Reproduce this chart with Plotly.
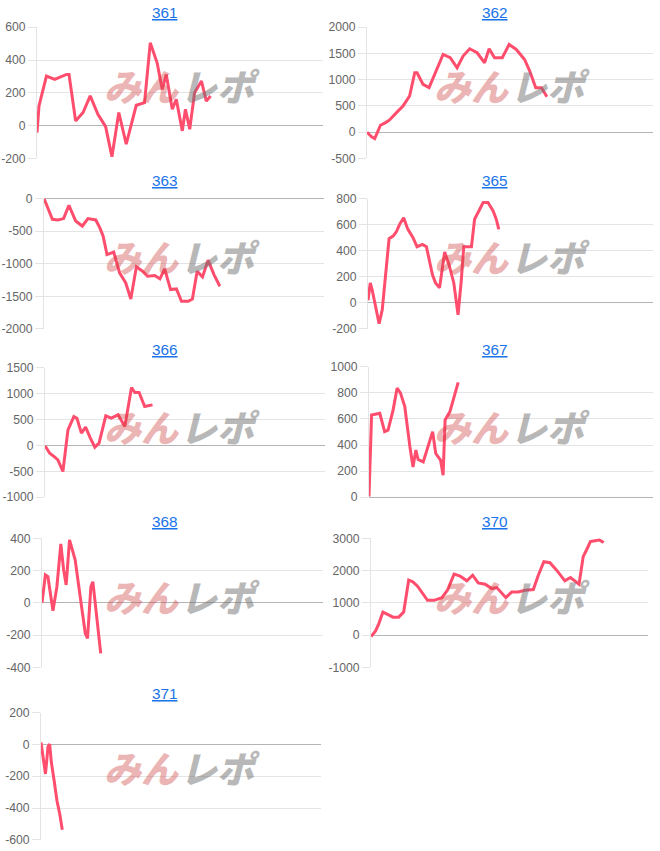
import plotly.graph_objects as go

# ---------------- data ----------------
titles = ["361", "362", "363", "365", "366", "367", "368", "370", "371"]

x361 = [0, 0.7, 3.3, 6.2, 10.3, 11.2, 13.5, 16.1, 18.6, 21.3, 24, 26.2, 28.6, 31.2, 34.7, 37.6, 39.6, 42, 43.8, 45.2,
        47.3, 48.7, 50.8, 51.9, 53.4, 55.1, 57.5, 59.2, 60.7]
y361 = [-42, 120, 302, 282, 312, 312, 29, 80, 181, 69, -6, -190, 80, -113, 124, 140, 505, 383, 221, 312,
        100, 161, -32, 100, -22, 201, 272, 150, 181]

x362 = [0, 1.5, 2.7, 4.7, 6.5, 7.9, 10.3, 12.6, 14.9, 16.7, 17.5, 19.6, 21.7, 24.2, 26.6, 29.1, 31.5, 33.6, 35.9, 38.5,
        41.1, 42.7, 44.6, 47.3, 49.7, 52.2, 55.1, 56.9, 59, 61, 62.9]
y362 = [0, -82, -120, 133, 183, 234, 373, 500, 690, 1133, 1133, 911, 848, 1165, 1481, 1418, 1228, 1449, 1589, 1513,
        1323, 1589, 1418, 1418, 1671, 1576, 1386, 1165, 848, 848, 677]

x363 = [0, 1.4, 3, 5, 7, 8.9, 11.3, 13.7, 15.7, 18.5, 19.9, 21.1, 22.5, 23.7, 24.9, 27, 29.2, 31, 33, 35.2,
        37, 39.6, 41.4, 43.1, 45.2, 47.3, 49.1, 51.5, 53, 54.7, 56.6, 58.6, 60.7, 62.8]
y363 = [0, -139, -319, -329, -308, -103, -344, -422, -308, -329, -447, -576, -859, -843, -822, -1141, -1296, -1542,
        -1049, -1116, -1193, -1182, -1234, -1080, -1398, -1388, -1578, -1578, -1542, -1116, -1203, -946, -1167, -1347]

x365 = [0, 0.8, 1.5, 2.7, 3.9, 5, 6.2, 7.4, 8.8, 9.9, 11.1, 12.5, 14, 15.8, 17.2, 19.1, 20.5, 22.6, 23.7, 25.1,
        26.9, 28.4, 30.1, 31.6, 32.7, 33.6, 36.3, 37.4, 39.2, 40.4, 42.1, 43.9, 45, 45.9]
y365 = [19, 152, 96, -48, -161, -53, 229, 492, 512, 543, 602, 653, 563, 499, 430, 448, 430, 216, 152, 114,
        389, 294, 152, -92, 165, 430, 430, 641, 718, 769, 769, 705, 641, 563]

x366 = [0, 1.7, 3.5, 4.6, 6.4, 8.2, 10.3, 11.4, 13, 14.5, 16.2, 17.8, 19.3, 21.7, 23.7, 26.1, 28.5, 29.3, 30.9, 32.1,
        33.6, 35.6, 37.4, 38.4]
y366 = [-8, -150, -227, -278, -504, 302, 559, 527, 237, 353, 140, -34, 44, 572, 527, 592, 366, 637, 1120, 1023,
        1023, 753, 765, 785]

x367 = [0, 0.5, 0.9, 2.6, 3.8, 5.5, 6.7, 8.5, 9.9, 11.1, 12.6, 14.4, 15.5, 16.5, 17.3, 19.1, 20.8, 22.4, 23.5, 25.2,
        26.1, 26.8, 28.5, 29.9, 31.4]
y367 = [5, 490, 631, 639, 644, 503, 515, 670, 838, 799, 696, 387, 232, 361, 289, 271, 387, 503, 335, 284,
        168, 593, 657, 773, 881]

x368 = [0, 1.2, 2.1, 3.9, 5.3, 6.7, 7.7, 8.6, 9.8, 11.8, 13.6, 15.4, 16.2, 17.4, 18.1, 19.5, 20.9]
y368 = [1, 173, 162, -49, 100, 365, 204, 111, 390, 266, 38, -189, -220, 100, 131, -86, -313]

x370 = [0, 1.6, 2.8, 4.3, 6, 7.9, 10, 11.8, 13.6, 15.1, 16.8, 18.7, 20.4, 22.8, 25.6, 27.6, 30, 32.2, 34.6, 36.7,
        38.7, 41.2, 43.6, 45.4, 48.7, 50.8, 53.2, 55.6, 57.4, 58.6, 60.4, 62.4, 64.6, 67, 70, 72, 75.1, 76.6, 77.8, 79.2,
        81.4, 82.4, 84]
y370 = [-44, 122, 351, 714, 642, 558, 558, 714, 1701, 1649, 1514, 1286, 1078, 1078, 1161, 1390, 1888, 1826, 1681, 1857,
        1618, 1577, 1442, 1473, 1161, 1338, 1338, 1390, 1410, 1410, 1857, 2273, 2242, 2013, 1681, 1784, 1577, 2429, 2636,
        2896, 2927, 2948, 2865]

x371 = [0, 0.7, 1.6, 2.1, 2.5, 3.1, 3.7, 4.7, 5.7, 6.7, 7.6]
y371 = [12, -92, -186, -92, -15, 2, -113, -228, -354, -437, -537]

ticks361 = [-200, 0, 200, 400, 600]
ticks362 = [-500, 0, 500, 1000, 1500, 2000]
ticks363 = [-2000, -1500, -1000, -500, 0]
ticks365 = [-200, 0, 200, 400, 600, 800]
ticks366 = [-1000, -500, 0, 500, 1000, 1500]
ticks367 = [0, 200, 400, 600, 800, 1000]
ticks368 = [-400, -200, 0, 200, 400]
ticks370 = [-1000, 0, 1000, 2000, 3000]
ticks371 = [-600, -400, -200, 0, 200]

xs = [x361, x362, x363, x365, x366, x367, x368, x370, x371]
ys = [y361, y362, y363, y365, y366, y367, y368, y370, y371]
tks = [ticks361, ticks362, ticks363, ticks365, ticks366, ticks367, ticks368, ticks370, ticks371]

# ---------------- layout ----------------
W, H = 660, 851
OFF = 8                      # vertical page margin around the figure
SY = (H + 2 * OFF) / H       # vertical page -> picture scaling compensation


def px(x):
    return min(1.0, max(0.0, x / W))


def py(y):
    return min(1.0, max(0.0, 1 - (y * SY - OFF) / H))


# (left, right, top, bottom) of each plot area, in picture px
boxes = [
    (37, 323, 28, 159), (367, 653, 28, 159),
    (44, 324, 199, 329), (368, 653, 199, 329),
    (45, 325, 368, 497), (369, 653, 367, 497),
    (42, 323, 538, 667), (371, 648, 538, 667),
    (41, 321, 712, 839),
]
title_y = [13, 13, 181, 181, 350, 350, 521, 521, 693]
cell_top = [0, 0, 170, 170, 340, 340, 510, 510, 680]

LINE = "#ff4d6d"
GRID = "#e4e4e4"
FONT = "Liberation Sans, Arial, sans-serif"

fig = go.Figure()
annotations = []
layout = dict(
    width=W, height=H,
    margin=dict(l=0, r=0, t=0, b=0),
    paper_bgcolor="white", plot_bgcolor="white",
    showlegend=False,
    font=dict(family=FONT, size=12, color="#666666"),
)

for i in range(9):
    n = "" if i == 0 else str(i + 1)
    fig.add_trace(go.Scatter(
        x=xs[i], y=ys[i], mode="lines",
        line=dict(color=LINE, width=3),
        xaxis="x" + n, yaxis="y" + n, hoverinfo="skip",
    ))
    l, r, t, b = boxes[i]
    tv = tks[i]
    left_col = (i % 2 == 0)
    layout["xaxis" + n] = dict(
        domain=[px(l), px(r)], range=[0, 100], anchor="y" + n,
        showgrid=False, zeroline=False, showticklabels=False, showline=False, ticks="",
        fixedrange=True,
    )
    layout["yaxis" + n] = dict(
        domain=[py(b), py(t)], range=[tv[0], tv[-1]], anchor="x" + n,
        tickvals=tv, ticktext=[str(v) for v in tv],
        showgrid=True, gridcolor=GRID, gridwidth=1,
        zeroline=True, zerolinecolor="#b4b4b4", zerolinewidth=1,
        showline=True, linecolor=GRID, linewidth=1,
        ticks="outside", ticklen=8, tickcolor=GRID, tickwidth=1,
        tickfont=dict(family=FONT, size=12.2, color="#666666"),
        fixedrange=True,
    )
    cx = 165 if left_col else 495
    annotations.append(dict(
        text="<u>" + titles[i] + "</u>", xref="paper", yref="paper",
        x=px(cx), y=py(title_y[i]), xanchor="center", yanchor="middle",
        showarrow=False, font=dict(family=FONT, size=15.3, color="#1a73e8"),
    ))
    ox = 0 if left_col else 330
    wy = cell_top[i] + 86
    annotations.append(dict(
        text="<i>みん</i>", xref="paper", yref="paper",
        x=px(ox + 102), y=py(wy), xanchor="left", yanchor="middle",
        showarrow=False,
        font=dict(family="Noto Sans CJK JP", size=37, weight=900, color="rgba(205,60,60,0.4)"),
    ))
    annotations.append(dict(
        text="<i>レポ</i>", xref="paper", yref="paper",
        x=px(ox + 262), y=py(wy), xanchor="right", yanchor="middle",
        showarrow=False,
        font=dict(family="Noto Sans CJK JP", size=37, weight=900, color="rgba(113,113,113,0.5)"),
    ))

layout["annotations"] = annotations
fig.update_layout(**layout)
fig.write_html("out.html")
